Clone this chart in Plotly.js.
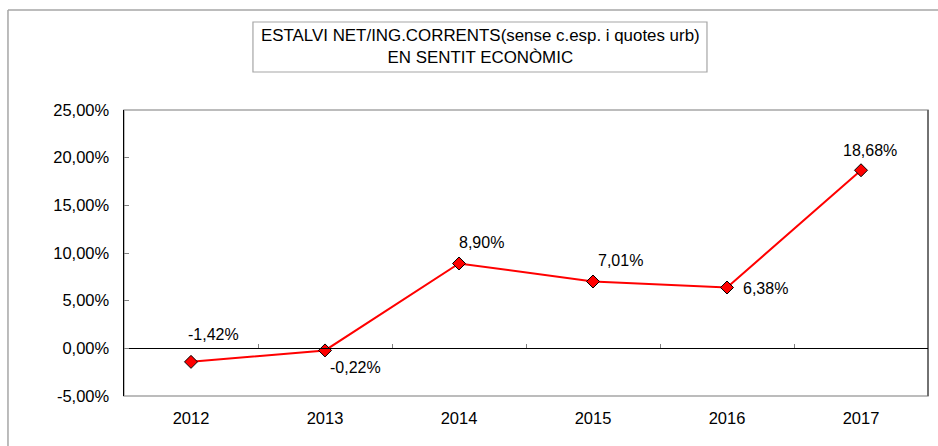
<!DOCTYPE html>
<html>
<head>
<meta charset="utf-8">
<script src="https://cdn.plot.ly/plotly-3.0.1.min.js"></script>
<style>html,body{margin:0;padding:0;background:#fff;}#chart{width:938px;height:446px;}</style>
</head>
<body>
<div id="chart"></div>
<script>
const years = ['2012', '2013', '2014', '2015', '2016', '2017'];
const values = [-1.42, -0.22, 8.90, 7.01, 6.38, 18.68];
const yTickValues = [-5, 0, 5, 10, 15, 20, 25];
const labelShiftX = [22, 30, 22, 27, 38, 9];
const labelShiftY = [27, -17, 21, 21, -1, 20];
const titleLines = ['ESTALVI NET/ING.CORRENTS(sense c.esp. i quotes urb)', 'EN SENTIT ECONÒMIC'];

const FONT = 'Liberation Sans, Arial, sans-serif';

const fmt = v => v.toFixed(2).replace('.', ',') + '%';

const traces = [
  {
    x: years, y: values, type: 'scatter', mode: 'lines+markers',
    line: {color: '#ff0000', width: 2},
    marker: {symbol: 'diamond', size: 10, color: '#ff0000', line: {color: '#000000', width: 1}},
    hoverinfo: 'skip', showlegend: false
  },
  {
    x: years, y: values, type: 'scatter', mode: 'lines', xaxis: 'x2',
    line: {width: 0}, opacity: 0, hoverinfo: 'skip', showlegend: false
  }
];

// category axes: annotation x given as category index
const annotations = years.map((yr, i) => ({
  x: i, y: values[i], xref: 'x', yref: 'y', text: fmt(values[i]),
  showarrow: false, xshift: labelShiftX[i], yshift: labelShiftY[i],
  xanchor: 'center', yanchor: 'middle',
  font: {family: FONT, size: 16, color: '#000'}
}));
annotations.push({
  x: 0.4428, y: 1.2203, xref: 'paper', yref: 'paper',
  xanchor: 'center', yanchor: 'middle',
  text: titleLines.join('<br>'), showarrow: false,
  font: {family: FONT, size: 16.9, color: '#000'}, align: 'center'
});

const layout = {
  width: 938, height: 446,
  margin: {l: 124, r: 10, t: 110, b: 50},
  paper_bgcolor: '#fff', plot_bgcolor: '#fff',
  separators: ',.',
  showlegend: false,
  font: {family: FONT, size: 16.5, color: '#000'},
  xaxis: {
    type: 'category', categoryarray: years, categoryorder: 'array', range: [-0.5, 5.5],
    showgrid: false, zeroline: false, showline: false, ticks: '',
    tickfont: {family: FONT, size: 16.5, color: '#000'},
    ticklabelstandoff: 10
  },
  xaxis2: {
    type: 'category', categoryarray: years, categoryorder: 'array', range: [-0.5, 5.5],
    overlaying: 'x', anchor: 'free', position: 1/6,
    showgrid: false, zeroline: false, showline: true, linecolor: '#000', linewidth: 1,
    ticks: 'inside', tickson: 'boundaries', ticklen: 4, tickcolor: '#808080', tickwidth: 1,
    showticklabels: false
  },
  yaxis: {
    range: [-5, 25],
    tickmode: 'array', tickvals: yTickValues, ticktext: yTickValues.map(fmt),
    showgrid: false, zeroline: false,
    showline: true, linecolor: '#000', linewidth: 1.5,
    ticks: 'inside', ticklen: 5, tickcolor: '#808080', tickwidth: 1,
    tickfont: {family: FONT, size: 16.5, color: '#000'},
    ticklabelstandoff: 10
  },
  shapes: [
    {type: 'rect', xref: 'paper', yref: 'paper', x0: 0, x1: 1, y0: 0, y1: 1,
     line: {color: '#a6a6a6', width: 1.5}, layer: 'below'},
    {type: 'line', xref: 'paper', yref: 'paper', x0: 1, x1: 1, y0: 0, y1: 1,
     line: {color: '#5a5a5a', width: 1.5}, layer: 'below'},
    {type: 'line', xref: 'paper', yref: 'paper', x0: -0.1443, x1: 1.03, y0: 1.3497, y1: 1.3497,
     line: {color: '#a6a6a6', width: 1.5}},
    {type: 'line', xref: 'paper', yref: 'paper', x0: -0.1443, x1: -0.1443, y0: -0.2, y1: 1.3497,
     line: {color: '#a6a6a6', width: 1.5}},
    {type: 'rect', xref: 'paper', yref: 'paper', x0: 0.1604, x1: 0.7251, y0: 1.1329, y1: 1.3077,
     line: {color: '#a6a6a6', width: 1.2}, fillcolor: 'rgba(0,0,0,0)'}
  ],
  annotations: annotations
};

Plotly.newPlot('chart', traces, layout, {displayModeBar: false, staticPlot: true});
</script>
</body>
</html>
